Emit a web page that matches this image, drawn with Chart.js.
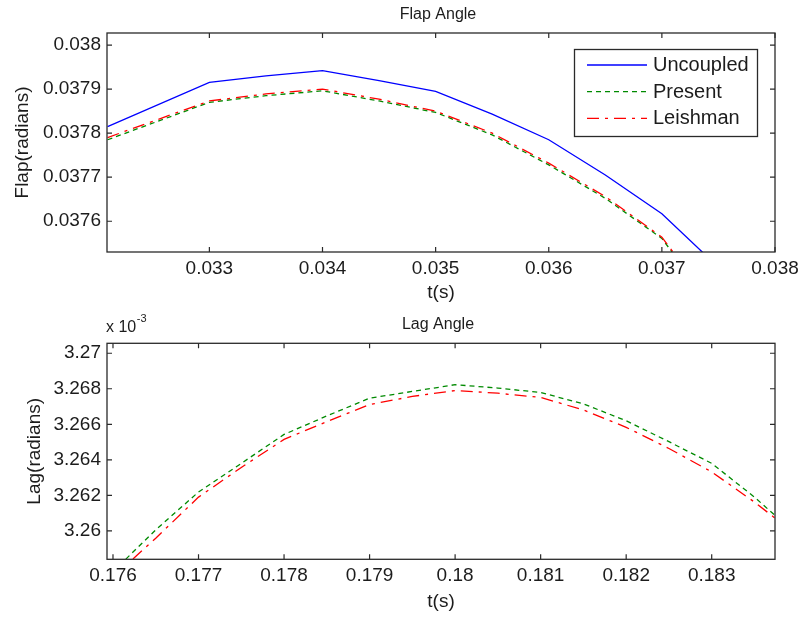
<!DOCTYPE html>
<html><head><meta charset="utf-8">
<script src="https://cdn.jsdelivr.net/npm/chart.js@4/dist/chart.umd.min.js"></script>
<style>
html,body{margin:0;padding:0;background:#fff;overflow:hidden}
#wrap{position:relative;width:807px;height:618px;background:#fff}
.c{position:absolute;left:0;width:807px;height:309px}
canvas{display:block}
</style></head><body>
<div id="wrap">
  <div class="c" style="top:0"><canvas id="flap" width="807" height="309"></canvas></div>
  <div class="c" style="top:309px"><canvas id="lag" width="807" height="309"></canvas></div>
</div>
<script>
// ---------- Flap Angle (top) ----------
const flapTime      = [0.0321, 0.033, 0.0335, 0.034, 0.0345, 0.035, 0.0355, 0.036, 0.0365, 0.037, 0.038];
const flapUncoupled = [0.037815, 0.037915, 0.03793, 0.037942, 0.037919, 0.037895, 0.037843, 0.037785, 0.037705, 0.037617, 0.037374];
const flapPresent   = [0.037785, 0.03787, 0.037885, 0.037896, 0.037873, 0.037847, 0.037796, 0.037728, 0.037652, 0.037561, 0.037217];
const flapLeishman  = [0.03779, 0.037873, 0.037889, 0.0379, 0.037877, 0.03785, 0.0378, 0.037732, 0.037656, 0.037564, 0.03722];
const flapXTicks  = [0.033, 0.034, 0.035, 0.036, 0.037, 0.038];
const flapXLabels = ["0.033", "0.034", "0.035", "0.036", "0.037", "0.038"];
const flapYTicks  = [0.0376, 0.0377, 0.0378, 0.0379, 0.038];
const flapYLabels = ["0.0376", "0.0377", "0.0378", "0.0379", "0.038"];

// ---------- Lag Angle (bottom), values in units of 10^-3 rad ----------
const lagTime     = [0.176, 0.1765, 0.177, 0.1775, 0.178, 0.1785, 0.179, 0.1795, 0.18, 0.1805, 0.181, 0.1815, 0.182, 0.1825, 0.183, 0.1835, 0.18374];
const lagPresent  = [3.2577, 3.26006, 3.26219, 3.2638, 3.26543, 3.26647, 3.26747, 3.26785, 3.26823, 3.26804, 3.26779, 3.26715, 3.2662, 3.26502, 3.2638, 3.2619, 3.26087];
const lagLeishman = [3.2574, 3.25959, 3.2619, 3.26357, 3.26515, 3.26615, 3.26711, 3.26757, 3.2679, 3.26775, 3.26751, 3.26681, 3.26583, 3.26464, 3.26332, 3.26162, 3.26072];
const lagXTicks  = [0.176, 0.177, 0.178, 0.179, 0.18, 0.181, 0.182, 0.183];
const lagXLabels = ["0.176", "0.177", "0.178", "0.179", "0.18", "0.181", "0.182", "0.183"];
const lagYTicks  = [3.26, 3.262, 3.264, 3.266, 3.268, 3.27];
const lagYLabels = ["3.26", "3.262", "3.264", "3.266", "3.268", "3.27"];
const lagExponent = "-3";

const seriesNames = ["Uncoupled", "Present", "Leishman"];

const FONT = '"Liberation Sans", Arial, Helvetica, sans-serif';
const TXT = '#1c1c1c';
Chart.defaults.font.family = FONT;
Chart.defaults.color = TXT;

const STY = {
  Uncoupled: {color: '#0000ff', dash: []},
  Present:   {color: '#008a00', dash: [5, 4]},
  Leishman:  {color: '#ff0000', dash: [12, 6, 3, 6]}
};

function pts(xs, ys) { return xs.map((x, i) => ({x: x, y: ys[i]})); }
function ds(name, xs, ys, order) {
  return {label: name, data: pts(xs, ys), borderColor: STY[name].color, borderDash: STY[name].dash,
          borderWidth: 1.3, pointRadius: 0, tension: 0, fill: false, order: order};
}

const framePlugin = {
  id: 'frame',
  afterDraw(chart, args, opts) {
    const {ctx, chartArea: a, scales: {x, y}} = chart;
    ctx.save();
    ctx.strokeStyle = '#2a2a2a';
    ctx.lineWidth = 1.3;
    ctx.strokeRect(a.left, a.top, a.right - a.left, a.bottom - a.top);
    ctx.lineWidth = 1.2;
    ctx.beginPath();
    x.ticks.forEach(t => {
      const px = x.getPixelForValue(t.value);
      ctx.moveTo(px, a.bottom); ctx.lineTo(px, a.bottom - 5);
      ctx.moveTo(px, a.top); ctx.lineTo(px, a.top + 5);
    });
    y.ticks.forEach(t => {
      const py = y.getPixelForValue(t.value);
      ctx.moveTo(a.left, py); ctx.lineTo(a.left + 5, py);
      ctx.moveTo(a.right, py); ctx.lineTo(a.right - 5, py);
    });
    ctx.stroke();
    // plot title
    ctx.fillStyle = TXT;
    ctx.font = '16px ' + FONT;
    ctx.textAlign = 'center';
    ctx.textBaseline = 'alphabetic';
    ctx.fillText(opts.title, (a.left + a.right) / 2 - 3, opts.titleY);
    if (opts.exponent) {
      ctx.textAlign = 'left';
      ctx.font = '16px ' + FONT;
      const base = 'x 10';
      ctx.fillText(base, a.left - 1, 22.7);
      const w = ctx.measureText(base).width;
      ctx.font = '11px ' + FONT;
      ctx.fillText(opts.exponent, a.left - 1 + w + 0.5, 12.7);
    }
    if (opts.legend) {
      const L = opts.legend;
      ctx.fillStyle = '#fff';
      ctx.fillRect(L.x, L.y, L.w, L.h);
      ctx.strokeStyle = '#2a2a2a';
      ctx.lineWidth = 1.3;
      ctx.strokeRect(L.x, L.y, L.w, L.h);
      ctx.font = '20px ' + FONT;
      ctx.textAlign = 'left';
      ctx.textBaseline = 'middle';
      seriesNames.forEach((name, i) => {
        const yy = L.rows[i];
        ctx.save();
        ctx.strokeStyle = STY[name].color;
        ctx.setLineDash(STY[name].dash);
        ctx.lineWidth = 1.3;
        ctx.beginPath();
        ctx.moveTo(L.lx0, yy); ctx.lineTo(L.lx1, yy);
        ctx.stroke();
        ctx.restore();
        ctx.fillStyle = TXT;
        ctx.fillText(name, L.tx, yy + 0.5);
      });
    }
    ctx.restore();
  }
};

function axis(min, max, tickVals, tickLabels, title, fit, tickPad, titlePad) {
  return {
    type: 'linear', min: min, max: max,
    afterBuildTicks: s => { s.ticks = tickVals.map(v => ({value: v})); },
    afterFit: fit,
    ticks: {callback: (v, i) => tickLabels[i], font: {size: 19}, color: TXT, padding: tickPad,
            autoSkip: false, maxRotation: 0, minRotation: 0},
    grid: {display: false, drawTicks: false},
    border: {display: false},
    title: {display: true, text: title, font: {size: 19}, color: TXT, padding: titlePad}
  };
}

new Chart(document.getElementById('flap'), {
  type: 'line',
  data: {datasets: [
    ds('Uncoupled', flapTime, flapUncoupled, 2),
    ds('Present', flapTime, flapPresent, 1),
    ds('Leishman', flapTime, flapLeishman, 0)
  ]},
  options: {
    responsive: false, animation: false, events: [],
    layout: {padding: {top: 33, right: 32, left: 0, bottom: 0}},
    scales: {
      x: axis(0.032095, 0.038, flapXTicks, flapXLabels, 't(s)', s => { s.height = 57; }, 5, {top: 0, bottom: 4.6}),
      y: axis(0.0375302, 0.0380273, flapYTicks, flapYLabels, 'Flap(radians)', s => { s.width = 107; }, 6, {top: 11, bottom: 0})
    },
    plugins: {
      legend: {display: false}, tooltip: {enabled: false},
      frame: {title: 'Flap Angle', titleY: 19,
        legend: {x: 574.5, y: 49.5, w: 183, h: 87, rows: [65, 91.7, 118.3], lx0: 587, lx1: 647, tx: 653}}
    }
  },
  plugins: [framePlugin]
});

new Chart(document.getElementById('lag'), {
  type: 'line',
  data: {datasets: [
    ds('Present', lagTime, lagPresent, 1),
    ds('Leishman', lagTime, lagLeishman, 0)
  ]},
  options: {
    responsive: false, animation: false, events: [],
    layout: {padding: {top: 34.3, right: 32, left: 0, bottom: 0}},
    scales: {
      x: axis(0.17593, 0.18374, lagXTicks, lagXLabels, 't(s)', s => { s.height = 58.7; }, 4.8, {top: 0, bottom: 4.6}),
      y: axis(3.2584, 3.27056, lagYTicks, lagYLabels, 'Lag(radians)', s => { s.width = 107; }, 6, {top: 23, bottom: 0})
    },
    plugins: {
      legend: {display: false}, tooltip: {enabled: false},
      frame: {title: 'Lag Angle', titleY: 20, exponent: lagExponent}
    }
  },
  plugins: [framePlugin]
});
</script>
</body></html>
